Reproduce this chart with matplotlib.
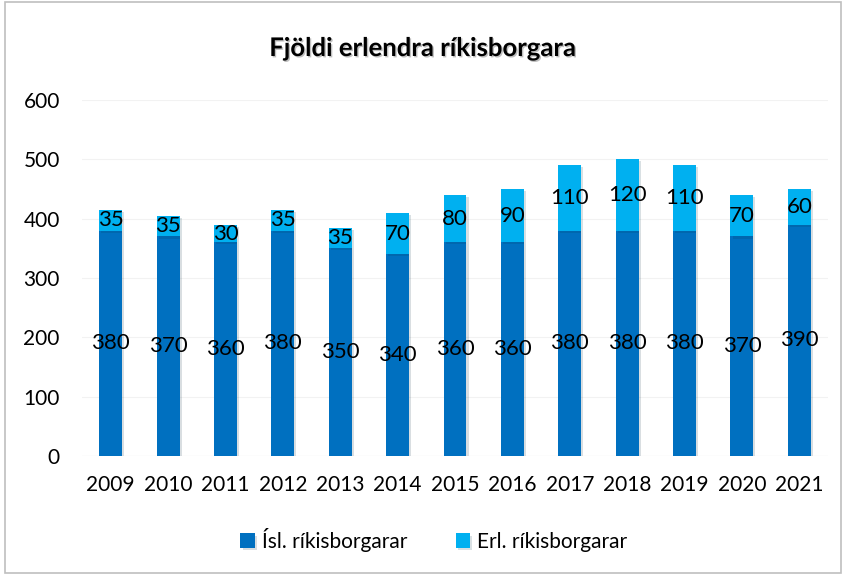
import numpy as np
import matplotlib
matplotlib.use("Agg")
import matplotlib.pyplot as plt
import matplotlib.patheffects as pe

plt.rcParams['font.family'] = ['Lato', 'DejaVu Sans']

years = ['2009', '2010', '2011', '2012', '2013', '2014', '2015',
         '2016', '2017', '2018', '2019', '2020', '2021']
isl = [380, 370, 360, 380, 350, 340, 360, 360, 380, 380, 380, 370, 390]
erl = [35, 35, 30, 35, 35, 70, 80, 90, 110, 120, 110, 70, 60]

fig = plt.figure(figsize=(8.46, 5.74), dpi=100)
ax = fig.add_axes([82 / 846, 1 - 456 / 574, 746 / 846, 356 / 574])

x = np.arange(len(years))
shadow = [pe.SimplePatchShadow(offset=(1.5, -1.5), alpha=0.15), pe.Normal()]
ax.bar(x, isl, width=0.4, color='#0070C0', label='Ísl. ríkisborgarar',
       zorder=3, path_effects=shadow)
ax.bar(x, erl, width=0.4, bottom=isl, color='#00B0F0',
       label='Erl. ríkisborgarar', zorder=3, path_effects=shadow)

for i in range(len(years)):
    ax.text(x[i], isl[i] / 2, str(isl[i]), ha='center', va='center',
            fontsize=16, zorder=5)
    ax.text(x[i], isl[i] + erl[i] / 2, str(erl[i]), ha='center', va='center',
            fontsize=16, zorder=5)

ax.set_xlim(-0.5, len(years) - 0.5)
ax.set_ylim(0, 600)
ax.set_yticks(range(0, 601, 100))
ax.set_xticks(x)
ax.set_xticklabels(years)
ax.tick_params(axis='both', length=0, labelsize=15)
ax.tick_params(axis='x', pad=14)
ax.tick_params(axis='y', pad=16)
ax.grid(axis='y', color='#f2f2f2', linewidth=0.8, zorder=0)
for s in ax.spines.values():
    s.set_visible(False)
ax.axhline(0, color='#e6e6e6', linewidth=0.8, zorder=1)

fig.text(0.5, 1 - 48 / 574, 'Fjöldi erlendra ríkisborgara', ha='center',
         va='center', fontsize=18.5, fontweight='bold',
         path_effects=[pe.withSimplePatchShadow(offset=(1, -1), alpha=0.25)])

fig.legend(loc='center', bbox_to_anchor=(434 / 846, 1 - 540 / 574), ncol=2,
           frameon=False, fontsize=15, handlelength=0.7, handleheight=0.7,
           columnspacing=2.3, handletextpad=0.35)

fig.patches.append(plt.Rectangle((5 / 846, 0.002), 1 - 10 / 846, 0.995,
                                 transform=fig.transFigure, fill=False,
                                 edgecolor='#bfbfbf', linewidth=1.2))

fig.savefig('out.png', dpi=100)
